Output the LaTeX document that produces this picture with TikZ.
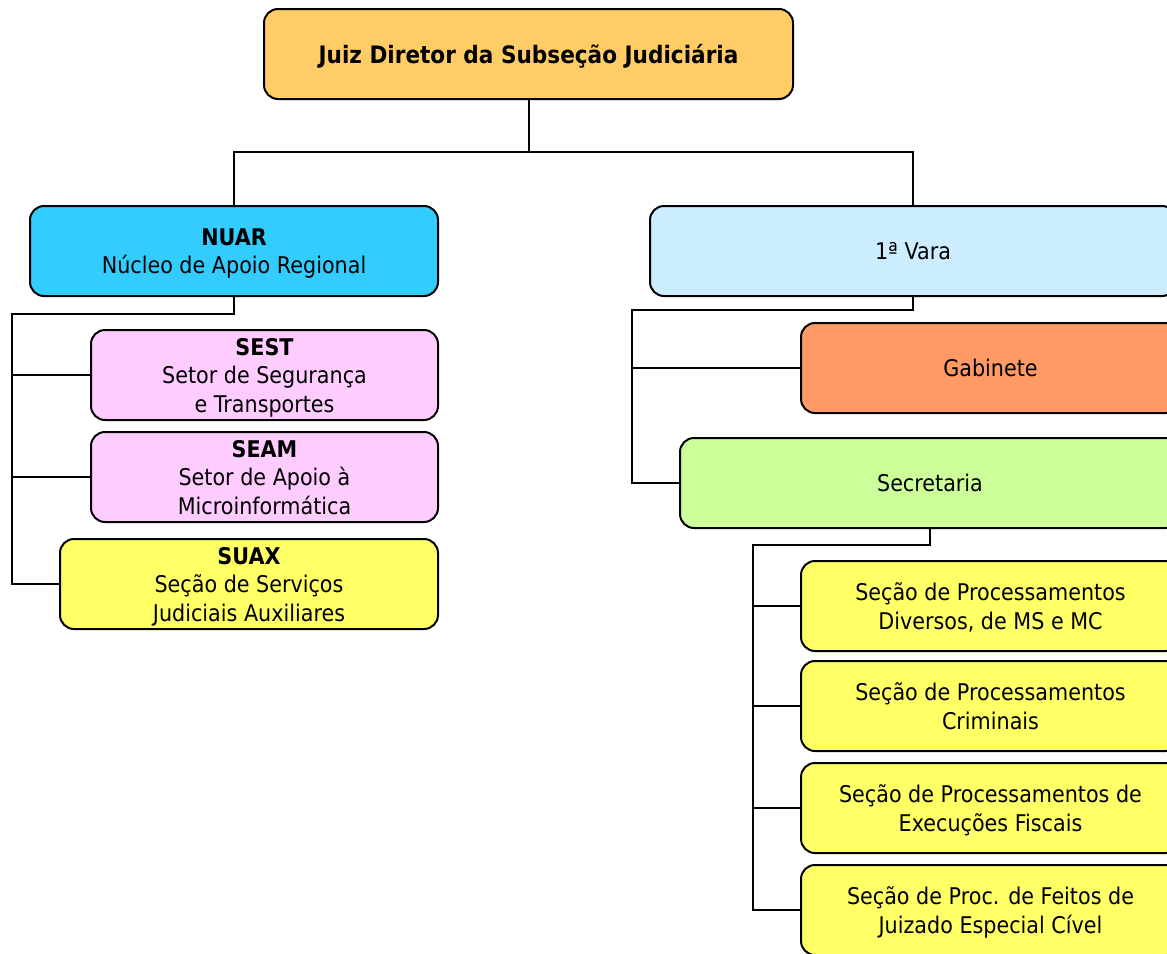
\documentclass[tikz,border=0pt]{standalone}
\usepackage{fontspec}
\setmainfont{DejaVu Sans}[FakeStretch=0.9]
\definecolor{ctop}{HTML}{FFCC66}
\definecolor{cnuar}{HTML}{33CCFF}
\definecolor{cvara}{HTML}{CCECFF}
\definecolor{cpink}{HTML}{FFCCFF}
\definecolor{cyel}{HTML}{FFFF66}
\definecolor{cgab}{HTML}{FF9966}
\definecolor{csec}{HTML}{CCFF99}
\begin{document}
\begin{tikzpicture}[x=1pt,y=-1pt,
  box/.style={draw=black, line width=2pt, rounded corners=14pt, minimum height=90pt,
    inner sep=0pt, align=center, text depth=-2pt, font=\fontsize{23}{28.5}\selectfont},
  conn/.style={draw=black, line width=2pt}]
\useasboundingbox (0,0) rectangle (1167,953);
\clip (0,0) rectangle (1167,953);
\node[box, fill=ctop, minimum width=529pt, font=\fontsize{24}{28.5}\selectfont] (top) at (528.5,54) {\textbf{Juiz Diretor da Subseção Judiciária}};
\node[box, fill=cnuar, minimum width=408pt] (nuar) at (234,251) {\textbf{NUAR}\\Núcleo de Apoio Regional};
\node[box, fill=cvara, minimum width=526pt] (vara) at (913,251) {1ª Vara};
\node[box, fill=cpink, minimum width=347pt] (sest) at (264.5,375) {\textbf{SEST}\\Setor de Segurança\\e Transportes};
\node[box, fill=cpink, minimum width=347pt] (seam) at (264.5,477) {\textbf{SEAM}\\Setor de Apoio à\\Microinformática};
\node[box, fill=cyel, minimum width=378pt] (suax) at (249,584) {\textbf{SUAX}\\Seção de Serviços\\Judiciais Auxiliares};
\node[box, fill=cgab, minimum width=379pt] (gab) at (990.5,368) {Gabinete};
\node[box, fill=csec, minimum width=500pt] (secr) at (930,483) {Secretaria};
\node[box, fill=cyel, minimum width=379pt] (s1) at (990.5,606) {Seção de Processamentos\\Diversos, de MS e MC};
\node[box, fill=cyel, minimum width=379pt] (s2) at (990.5,706) {Seção de Processamentos\\Criminais};
\node[box, fill=cyel, minimum width=379pt] (s3) at (990.5,808) {Seção de Processamentos de\\Execuções Fiscais};
\node[box, fill=cyel, minimum width=379pt] (s4) at (990.5,910) {Seção de Proc. de Feitos de\\Juizado Especial Cível};
\coordinate (hub) at (528.5,152);
\coordinate (lbus) at (12,314);
\coordinate (rbus) at (632,310);
\coordinate (sbus) at (753,545);
\draw[conn] (top.south) -- (hub);
\draw[conn] (nuar.north) |- (hub) -| (vara.north);
\draw[conn] (nuar.south) |- (lbus) |- (suax.west);
\draw[conn] (lbus |- sest.west) -- (sest.west);
\draw[conn] (lbus |- seam.west) -- (seam.west);
\draw[conn] (vara.south) |- (rbus) |- (secr.west);
\draw[conn] (rbus |- gab.west) -- (gab.west);
\draw[conn] (secr.south) |- (sbus) |- (s4.west);
\draw[conn] (sbus |- s1.west) -- (s1.west);
\draw[conn] (sbus |- s2.west) -- (s2.west);
\draw[conn] (sbus |- s3.west) -- (s3.west);
\end{tikzpicture}
\end{document}
